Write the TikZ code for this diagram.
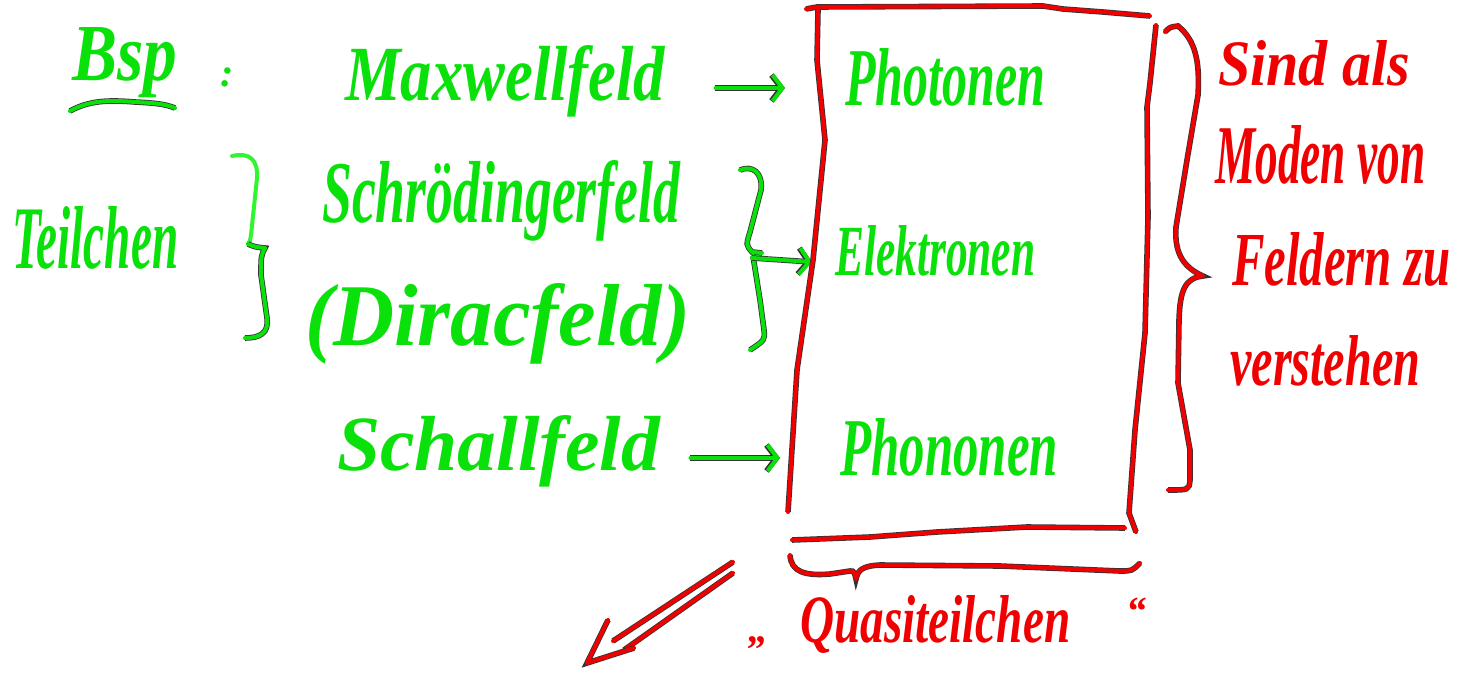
\documentclass[tikz,border=0pt]{standalone}
\usepackage{graphicx}
\usepackage{fontspec}
\setmainfont{Liberation Serif}
\usetikzlibrary{arrows.meta,calc}
\definecolor{hgreen}{RGB}{10,225,10}
\definecolor{hlgreen}{RGB}{50,245,50}
\definecolor{hred}{RGB}{240,0,0}
% handwritten-looking word: width, height above baseline, text
\newcommand{\hw}[3]{\resizebox{#1pt}{#2pt}{\bfseries\itshape #3}}
\tikzset{
  pen/.style={line width=4pt, line cap=round, line join=round,
    preaction={draw=black!80, line width=5.6pt}},
  gpen/.style={pen, draw=hgreen},
  rpen/.style={pen, draw=hred},
  arr/.style={-{Straight Barb[length=10pt,width=26pt]}},
  gtxt/.style={text=hgreen, inner sep=0pt, anchor=base west},
  rtxt/.style={text=hred, inner sep=0pt, anchor=base west},
  punct/.style={inner sep=0pt, anchor=base west,
    font=\fontsize{40}{40}\selectfont\bfseries\itshape}
}
\begin{document}
\begin{tikzpicture}[x=1pt,y=-1pt]
\useasboundingbox[fill=white] (0,0) rectangle (1466,672);

% green words
\node[gtxt] (bsp) at (72,80) {\hw{105}{53}{Bsp}};
\node[punct, text=hgreen] (colon) at (220,86) {:};
\node[gtxt] (maxwell) at (345,100) {\hw{320}{55}{Maxwellfeld}};
\node[gtxt] (photonen) at (845,105) {\hw{200}{57}{Photonen}};
\node[gtxt] (schroed) at (322,222) {\hw{358}{62}{Schrödingerfeld}};
\node[gtxt] (dirac) at (305,345) {\hw{385}{62}{(Diracfeld)}};
\node[gtxt] (elektronen) at (835,275) {\hw{200}{50}{Elektronen}};
\node[gtxt] (teilchen) at (12,268) {\hw{166}{62}{Teilchen}};
\node[gtxt] (schall) at (337,470) {\hw{323}{55}{Schallfeld}};
\node[gtxt] (phononen) at (840,475) {\hw{218}{57}{Phononen}};

% red words
\node[rtxt] (sind) at (1218,85) {\hw{192}{45}{Sind als}};
\node[rtxt] (moden) at (1215,183) {\hw{210}{58}{Moden von}};
\node[rtxt] (feldern) at (1232,285) {\hw{218}{53}{Feldern zu}};
\node[rtxt] (verstehen) at (1230,385) {\hw{190}{50}{verstehen}};
\node[rtxt] (quasi) at (800,642) {\hw{270}{47}{Quasiteilchen}};
\node[punct, text=hred] (qopen) at (748,642) {„};
\node[punct, text=hred] (qclose) at (1126,624) {“};

% underline of "Bsp"
\draw[gpen] (70,111) .. controls (90,100) and (110,100) .. (135,102)
  .. controls (155,103) and (165,104) .. (175,108);

% arrows into the box
\draw[gpen, arr] ([shift={(50,-12)}]maxwell.base east) -- ([shift={(-60,-17)}]photonen.base west);
\draw[gpen, arr] ([shift={(30,-12)}]schall.base east) -- ([shift={(-60,-17)}]phononen.base west);

% brace "Teilchen"
\draw[line width=4pt, line cap=round, line join=round, draw=hlgreen]
  (232,156) .. controls (250,152) and (258,160) .. (257,178)
  -- (251,235) .. controls (250,241) .. (248,244);
\draw[gpen] (248,244) .. controls (255,247) .. (265,248)
  .. controls (261,256) .. (261,275) -- (267,318)
  .. controls (269,333) and (260,338) .. (245,338);

% brace with arrow to "Elektronen"
\coordinate (bmid) at (752,258);
\draw[gpen] (740,170) .. controls (752,165) and (763,172) .. (761,190)
  -- (750,232) .. controls (746,245) .. (752,252) -- (762,253);
\draw[gpen] (753,256) -- (760,300) -- (764,330)
  .. controls (765,340) .. (750,350);
\draw[gpen, arr] (bmid) -- ([shift={(-23,-13)}]elektronen.base west);

% box around the particles
\draw[rpen] (806,9) -- (817,7) -- (1043,6) -- (1063,9) -- (1103,12) -- (1150,16);
\draw[rpen] (818,10) -- (817,60) -- (825,140) -- (813,260) -- (797,370) -- (788,512);
\draw[rpen] (1156,25) -- (1150,83) -- (1147,107) -- (1148,217) -- (1145,333)
  -- (1135,430) -- (1129,513) -- (1136,532);
\draw[rpen] (792,540) -- (870,537) -- (937,532) -- (1027,527) -- (1125,528);

% large brace on the right
\draw[rpen] (1165,32) .. controls (1170,27) .. (1178,26)
  .. controls (1195,40) and (1200,60) .. (1198,95)
  -- (1187,160) -- (1176,227) .. controls (1174,255) and (1185,268) .. (1203,276)
  .. controls (1185,278) and (1180,290) .. (1179,320)
  -- (1178,383) -- (1190,450) -- (1190,480)
  .. controls (1189,490) .. (1168,490);

% brace under the box
\draw[rpen] (790,555) .. controls (791,572) and (805,576) .. (830,574)
  -- (850,571) .. controls (854,570) and (855,574) .. (856,579)
  .. controls (858,570) and (862,566) .. (880,565)
  -- (1000,566) -- (1120,571) .. controls (1132,571) .. (1140,563);

% double arrow
\draw[rpen] (733,562) -- (613,641);
\draw[rpen] (733,573) -- (624,650);
\draw[rpen] (608,620) -- (587,663) -- (634,648);
\end{tikzpicture}
\end{document}
